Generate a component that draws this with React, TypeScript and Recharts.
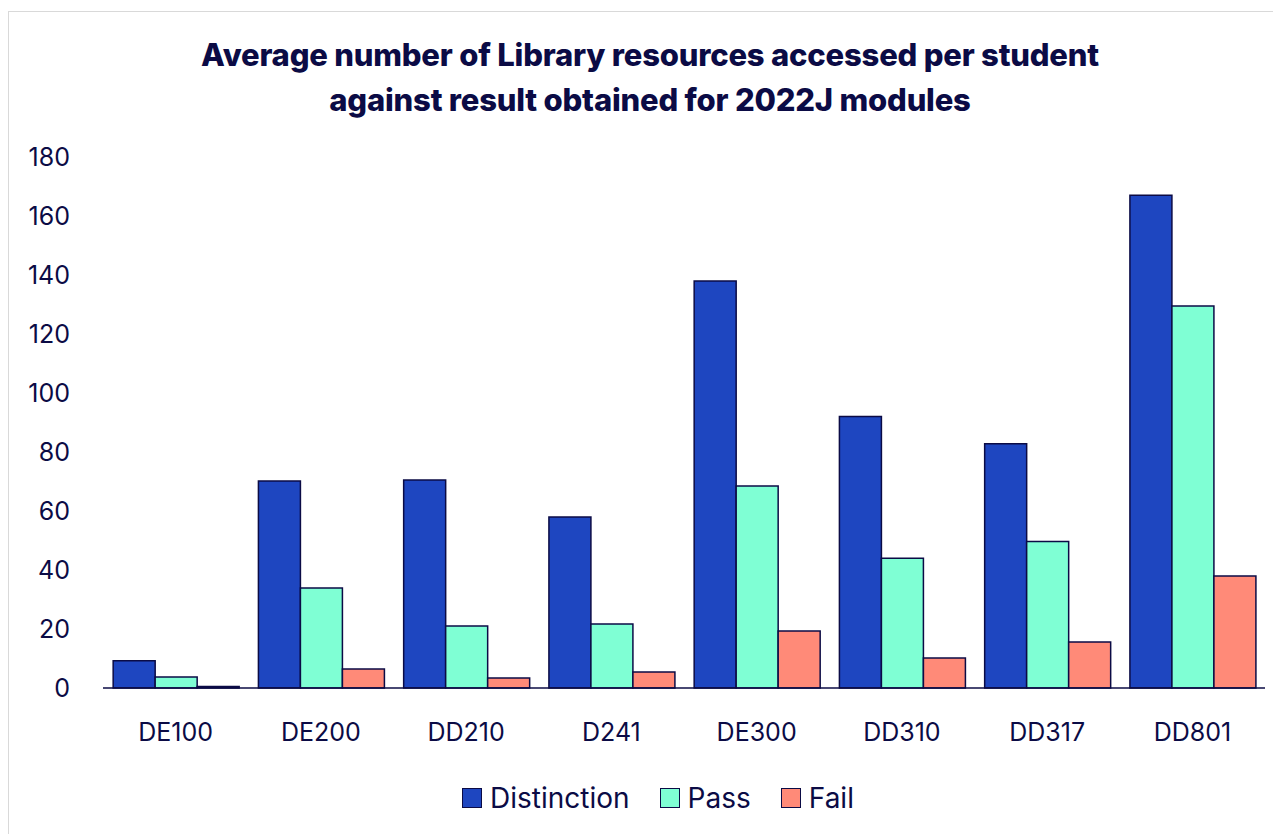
import { BarChart, Bar, XAxis, YAxis } from 'recharts';

const modules = ['DE100', 'DE200', 'DD210', 'D241', 'DE300', 'DD310', 'DD317', 'DD801'];
const distinction = [9.2, 70.2, 70.5, 58, 138, 92, 82.8, 167];
const pass = [3.7, 33.9, 21, 21.7, 68.5, 44, 49.7, 129.5];
const fail = [0.5, 6.4, 3.4, 5.4, 19.3, 10.2, 15.6, 38];
const yTicks = [0, 20, 40, 60, 80, 100, 120, 140, 160, 180];

const NAVY = '#0b0b45';
const FONT = 'Inter, "Noto Sans", sans-serif';

const series = [
    { key: 'distinction', name: 'Distinction', fill: '#1e46c0' },
    { key: 'pass', name: 'Pass', fill: '#7fffd4' },
    { key: 'fail', name: 'Fail', fill: '#ff8a78' },
];

const data = modules.map((m, i) => ({
    module: m,
    distinction: distinction[i],
    pass: pass[i],
    fail: fail[i],
}));

const App = () => {
    return (
        <div
            style={{
                position: 'relative',
                marginTop: 3,
                width: 1273,
                height: 822,
                borderTop: '1px solid #d9d9d9',
                borderLeft: '1px solid #d9d9d9',
                fontFamily: FONT,
                color: NAVY,
            }}>
            {/* Title */}
            <div
                style={{
                    position: 'absolute',
                    left: 0,
                    top: 20,
                    width: 1282,
                    textAlign: 'center',
                    fontSize: 31,
                    fontWeight: 800,
                    lineHeight: '45px',
                    letterSpacing: -0.2,
                }}>
                Average number of Library resources accessed per student
                <br />
                against result obtained for 2022J modules
            </div>

            <BarChart
                width={1273}
                height={822}
                data={data}
                margin={{ top: 145, right: 17, left: 14, bottom: 86 }}
                barCategoryGap="7%"
                barGap={0}>
                <XAxis
                    dataKey="module"
                    height={60}
                    axisLine={{ stroke: NAVY, strokeWidth: 1.5 }}
                    tickLine={false}
                    tickSize={0}
                    tickMargin={35}
                    tick={{ fill: NAVY, fontSize: 25, fontFamily: FONT }}
                />
                <YAxis
                    width={80}
                    domain={[0, 180]}
                    ticks={yTicks}
                    axisLine={false}
                    tickLine={false}
                    tickSize={0}
                    tickMargin={33}
                    tick={{ fill: NAVY, fontSize: 25, fontFamily: FONT }}
                />
                {series.map((s) => (
                    <Bar
                        key={s.key}
                        dataKey={s.key}
                        name={s.name}
                        fill={s.fill}
                        stroke={NAVY}
                        strokeWidth={1.5}
                        isAnimationActive={false}
                    />
                ))}
            </BarChart>

            {/* Legend */}
            <div
                style={{
                    position: 'absolute',
                    top: 769,
                    left: 0,
                    width: 1298,
                    display: 'flex',
                    justifyContent: 'center',
                    alignItems: 'center',
                    gap: 30,
                    fontSize: 28,
                }}>
                {series.map((s) => (
                    <div key={s.key} style={{ display: 'flex', alignItems: 'center', gap: 8 }}>
                        <span
                            style={{
                                display: 'inline-block',
                                width: 18,
                                height: 18,
                                background: s.fill,
                                border: `1.5px solid ${NAVY}`,
                            }}
                        />
                        <span>{s.name}</span>
                    </div>
                ))}
            </div>
        </div>
    );
};

export default App;
